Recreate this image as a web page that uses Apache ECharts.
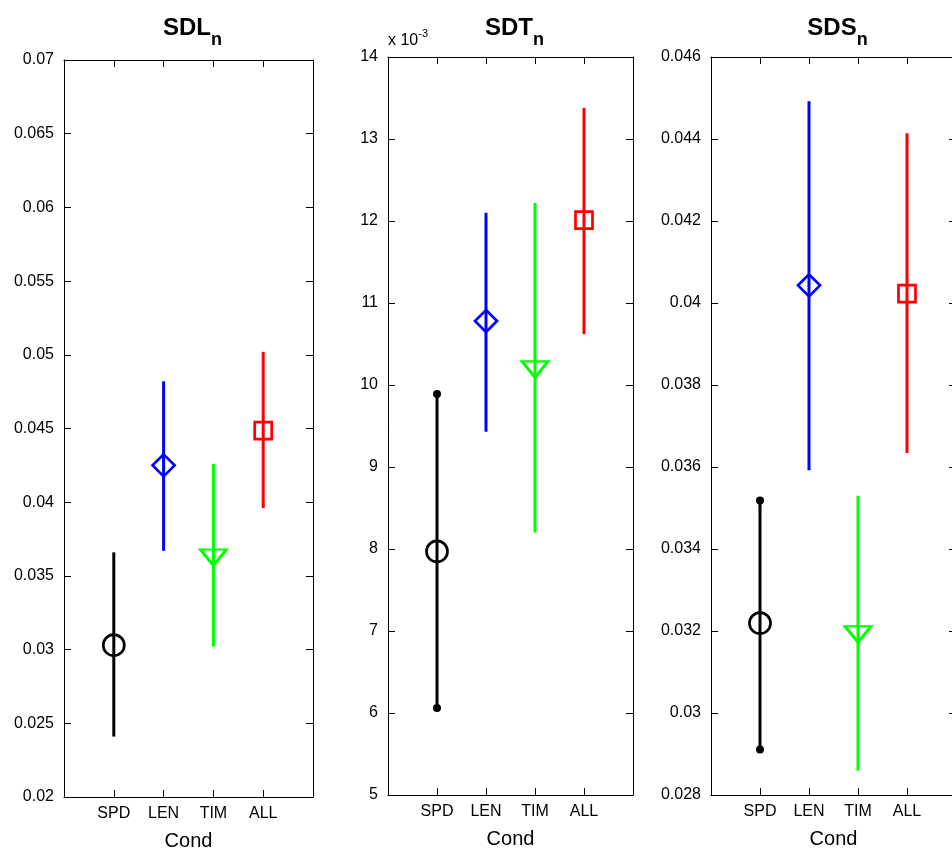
<!DOCTYPE html>
<html><head><meta charset="utf-8">
<script src="https://cdn.jsdelivr.net/npm/echarts@6/dist/echarts.min.js"></script>
<style>html,body{margin:0;padding:0;background:#fff}#c{width:952px;height:853px}</style>
</head><body><div id="c"></div>
<script>
// ---------- data ----------
const categories = ['SPD', 'LEN', 'TIM', 'ALL'];
const xAxisName = 'Cond';
const titleMain = ['SDL', 'SDT', 'SDS'];
const titleSub = 'n';
const scaleNote = ['x 10', '-3'];

// SDL_n
const sdlMean = [0.0303, 0.0425, 0.03625, 0.04486];
const sdlLow  = [0.0241, 0.0367, 0.0302, 0.0396];
const sdlHigh = [0.0366, 0.0482, 0.0426, 0.0502];
const sdlAxis = [0.02, 0.07, 0.005];

// SDT_n  (x 10^-3)
const sdtMean = [7.97, 10.78, 10.19, 12.01];
const sdtLow  = [6.06, 9.43, 8.20, 10.62];
const sdtHigh = [9.89, 12.10, 12.22, 13.38];
const sdtAxis = [5, 14, 1];

// SDS_n
const sdsMean = [0.03219, 0.04043, 0.03192, 0.04023];
const sdsLow  = [0.02911, 0.03592, 0.02859, 0.03634];
const sdsHigh = [0.03518, 0.04492, 0.03530, 0.04414];
const sdsAxis = [0.028, 0.046, 0.002];

// ---------- styles ----------
const FONT = 'Liberation Sans, Arial, Helvetica, sans-serif';
const COLORS = ['#000000', '#0000ff', '#00ff00', '#ff0000'];
const MARKERS = [
  { symbol: 'circle', symbolSize: 21, symbolRotate: 0 },
  { symbol: 'diamond', symbolSize: [22, 22], symbolRotate: 0 },
  { symbol: 'triangle', symbolSize: [26, 16], symbolRotate: 180 },
  { symbol: 'rect', symbolSize: 17, symbolRotate: 0 }
];

const panels = [
  { mean: sdlMean, low: sdlLow, high: sdlHigh, axis: sdlAxis, grid: { left: 64, top: 60, width: 249, height: 737 }, dots: false },
  { mean: sdtMean, low: sdtLow, high: sdtHigh, axis: sdtAxis, grid: { left: 388, top: 57, width: 245, height: 738 }, dots: true },
  { mean: sdsMean, low: sdsLow, high: sdsHigh, axis: sdsAxis, grid: { left: 711, top: 57, width: 245, height: 738 }, dots: true }
];

function fmtY(v) { return String(+v.toFixed(4)); }

const grids = [], xAxes = [], yAxes = [], series = [], titles = [];

panels.forEach((p, gi) => {
  grids.push(Object.assign({ containLabel: false, outerBoundsMode: 'none' }, p.grid));
  const axLine = { show: true, onZero: false, lineStyle: { color: '#000', width: 1 } };
  const tick = { show: true, inside: true, length: 7, lineStyle: { color: '#000', width: 1 } };
  xAxes.push({
    gridIndex: gi, type: 'value', min: 0, max: 5, interval: 1, position: 'bottom',
    axisLine: axLine, axisTick: tick, splitLine: { show: false },
    axisLabel: { formatter: v => categories[v - 1] || '', color: '#000', fontSize: 16, fontFamily: FONT, margin: 9, showMinLabel: true, showMaxLabel: true },
    name: xAxisName, nameLocation: 'middle', nameGap: 34,
    nameTextStyle: { color: '#000', fontSize: 20, fontFamily: FONT }
  });
  xAxes.push({
    gridIndex: gi, type: 'value', min: 0, max: 5, interval: 1, position: 'top',
    axisLine: axLine, axisTick: tick, splitLine: { show: false }, axisLabel: { show: false }
  });
  yAxes.push({
    gridIndex: gi, type: 'value', min: p.axis[0], max: p.axis[1], interval: p.axis[2], position: 'left',
    axisLine: axLine, axisTick: tick, splitLine: { show: false },
    axisLabel: { formatter: fmtY, color: '#000', fontSize: 16, fontFamily: FONT, margin: 10, showMinLabel: true, showMaxLabel: true }
  });
  yAxes.push({
    gridIndex: gi, type: 'value', min: p.axis[0], max: p.axis[1], interval: p.axis[2], position: 'right',
    axisLine: axLine, axisTick: tick, splitLine: { show: false }, axisLabel: { show: false }
  });

  // error bars
  series.push({
    type: 'custom', xAxisIndex: gi * 2, yAxisIndex: gi * 2, clip: false, z: 2,
    encode: { x: 0, y: [1, 2] },
    data: categories.map((c, i) => ({ value: [i + 1, p.low[i], p.high[i]], itemStyle: { color: COLORS[i] } })),
    renderItem: (params, api) => {
      const a = api.coord([api.value(0), api.value(1)]);
      const b = api.coord([api.value(0), api.value(2)]);
      return { type: 'line', shape: { x1: a[0], y1: a[1], x2: b[0], y2: b[1] },
        style: { stroke: api.visual('color'), lineWidth: 3 } };
    }
  });
  // markers
  series.push({
    type: 'scatter', xAxisIndex: gi * 2, yAxisIndex: gi * 2, z: 3,
    data: categories.map((c, i) => Object.assign({
      value: [i + 1, p.mean[i]],
      itemStyle: { color: 'rgba(0,0,0,0)', borderColor: COLORS[i], borderWidth: 2.7, opacity: 1 }
    }, MARKERS[i]))
  });
  // end dots on SPD bar
  if (p.dots) {
    series.push({
      type: 'scatter', xAxisIndex: gi * 2, yAxisIndex: gi * 2, z: 4, symbol: 'circle', symbolSize: 8,
      itemStyle: { color: COLORS[0], opacity: 1 },
      data: [[1, p.low[0]], [1, p.high[0]]]
    });
  }

  const cx = p.grid.left + p.grid.width / 2 + 4;
  titles.push({
    text: '{m|' + titleMain[gi] + '}{s|' + titleSub + '}',
    left: cx, top: 16, textAlign: 'center', padding: 0,
    textStyle: { rich: {
      m: { fontSize: 24, fontWeight: 'bold', fontFamily: FONT, color: '#000', lineHeight: 28, verticalAlign: 'top' },
      s: { fontSize: 18, fontWeight: 'bold', fontFamily: FONT, color: '#000', lineHeight: 18, padding: [15, 0, 0, 0], verticalAlign: 'top' }
    } }
  });
});

titles.push({
  text: '{a|' + scaleNote[0] + '}{b|' + scaleNote[1] + '}',
  left: 388, top: 28, padding: 0,
  textStyle: { fontWeight: 'normal', rich: {
    a: { fontSize: 16, fontWeight: 'normal', fontFamily: FONT, color: '#000', lineHeight: 16, padding: [5, 0, 0, 0], verticalAlign: 'top' },
    b: { fontSize: 11, fontWeight: 'normal', fontFamily: FONT, color: '#000', lineHeight: 11, verticalAlign: 'top' }
  } }
});

const chart = echarts.init(document.getElementById('c'), null, { renderer: 'canvas' });
chart.setOption({
  backgroundColor: '#ffffff',
  animation: false,
  title: titles,
  grid: grids,
  xAxis: xAxes,
  yAxis: yAxes,
  series: series
});
</script>
</body></html>
